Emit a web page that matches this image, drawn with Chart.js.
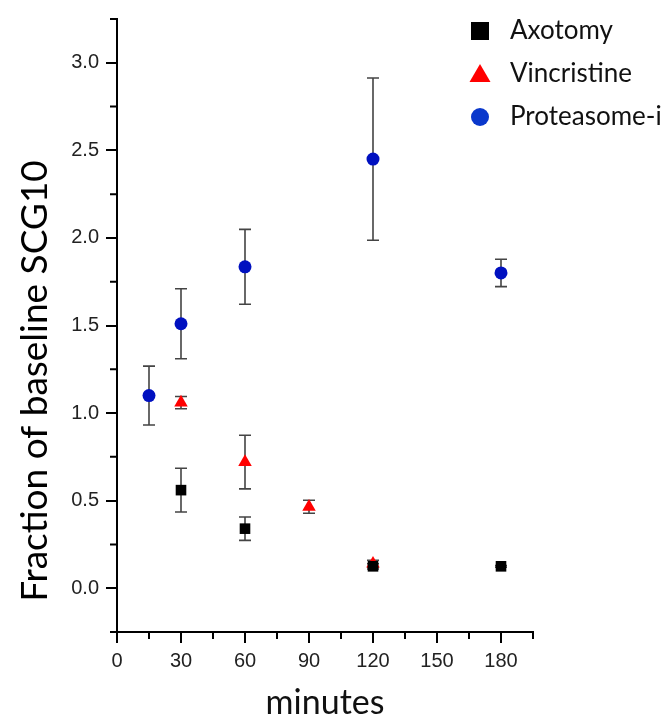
<!DOCTYPE html>
<html>
<head>
<meta charset="utf-8">
<script src="https://cdn.jsdelivr.net/npm/chart.js@4.4.1/dist/chart.umd.min.js"></script>
<style>
  html, body { margin: 0; padding: 0; background: #fff; }
  #wrap { width: 670px; height: 723px; }
</style>
</head>
<body>
<div id="wrap"><canvas id="myScatter"></canvas></div>
<script>
// values (minutes vs fraction of baseline SCG10)
var seriesNames = ['Axotomy', 'Vincristine', 'Proteasome-i'];

var axotomyMinutes = [30, 60, 120, 180];
var axotomyValues  = [0.56, 0.34, 0.125, 0.125];
var axotomyErrors  = [0.125, 0.067, 0.015, 0.005];

var vincristineMinutes = [30, 60, 90, 120];
var vincristineValues  = [1.06, 0.72, 0.465, 0.14];
var vincristineErrors  = [0.035, 0.153, 0.037, 0.02];

var proteasomeMinutes = [15, 30, 60, 120, 180];
var proteasomeValues  = [1.10, 1.51, 1.835, 2.45, 1.80];
var proteasomeErrors  = [0.168, 0.20, 0.214, 0.463, 0.078];

var xTickValues = [0, 30, 60, 90, 120, 150, 180];
var xTickLabels = ['0', '30', '60', '90', '120', '150', '180'];
var xMinorTicks = [15, 45, 75, 105, 135, 165, 195];
var yTickValues = [0, 0.5, 1, 1.5, 2, 2.5, 3];
var yTickLabels = ['0.0', '0.5', '1.0', '1.5', '2.0', '2.5', '3.0'];
var yMinorTicks = [-0.25, 0.25, 0.75, 1.25, 1.75, 2.25, 2.75, 3.25];

function points(xs, ys) {
  var out = [];
  for (var i = 0; i < xs.length; i++) out.push({ x: xs[i], y: ys[i] });
  return out;
}

// error bars, drawn under the markers
var errorBars = {
  id: 'errorBars',
  beforeDatasetsDraw: function(chart) {
    var ctx = chart.ctx, xs = chart.scales.x, ys = chart.scales.y;
    ctx.save();
    ctx.strokeStyle = '#444';
    ctx.lineWidth = 1.6;
    chart.data.datasets.forEach(function(ds) {
      ds.data.forEach(function(p, i) {
        var px = xs.getPixelForValue(p.x);
        var top = ys.getPixelForValue(p.y + ds.errors[i]);
        var bot = ys.getPixelForValue(p.y - ds.errors[i]);
        ctx.beginPath();
        ctx.moveTo(px, top); ctx.lineTo(px, bot);
        ctx.moveTo(px - 6, top); ctx.lineTo(px + 6, top);
        ctx.moveTo(px - 6, bot); ctx.lineTo(px + 6, bot);
        ctx.stroke();
      });
    });
    ctx.restore();
  }
};

// short minor ticks, y title and legend
var extras = {
  id: 'extras',
  afterDraw: function(chart) {
    var ctx = chart.ctx, xs = chart.scales.x, ys = chart.scales.y, area = chart.chartArea;
    ctx.save();
    ctx.strokeStyle = '#000';
    ctx.lineWidth = 2;
    ctx.beginPath();
    xMinorTicks.forEach(function(v) {
      var px = xs.getPixelForValue(v);
      ctx.moveTo(px, area.bottom); ctx.lineTo(px, area.bottom + 7);
    });
    yMinorTicks.forEach(function(v) {
      var py = ys.getPixelForValue(v);
      ctx.moveTo(area.left, py); ctx.lineTo(area.left - 7, py);
    });
    ctx.stroke();

    // y axis title
    ctx.save();
    ctx.translate(35, 381);
    ctx.rotate(-Math.PI / 2);
    ctx.fillStyle = '#000';
    ctx.font = '37px Lato';
    ctx.textAlign = 'center';
    ctx.textBaseline = 'middle';
    ctx.fillText('Fraction of baseline SCG10', 0, 0);
    ctx.restore();

    // legend
    ctx.font = '26px Lato';
    ctx.textAlign = 'left';
    ctx.textBaseline = 'middle';
    chart.data.datasets.forEach(function(ds, i) {
      var cx = 480, cy = 31 + i * 43;
      ctx.fillStyle = ds.legendColor;
      ctx.beginPath();
      if (ds.pointStyle === 'rect') {
        ctx.rect(cx - 9, cy - 9, 18, 18);
      } else if (ds.pointStyle === 'triangle') {
        ctx.moveTo(cx, cy - 10); ctx.lineTo(cx + 10.5, cy + 8); ctx.lineTo(cx - 10.5, cy + 8); ctx.closePath();
      } else {
        ctx.arc(cx, cy, 9, 0, Math.PI * 2);
      }
      ctx.fill();
      ctx.fillStyle = '#111';
      ctx.fillText(ds.label, 510, cy);
    });
    ctx.restore();
  }
};

var chartdata = {
  datasets: [
    {
      label: seriesNames[0],
      data: points(axotomyMinutes, axotomyValues),
      errors: axotomyErrors,
      pointStyle: 'rect',
      pointRadius: 7.5,
      backgroundColor: '#000',
      legendColor: '#000',
      borderColor: '#000',
      borderWidth: 0
    },
    {
      label: seriesNames[1],
      data: points(vincristineMinutes, vincristineValues),
      errors: vincristineErrors,
      pointStyle: 'triangle',
      pointRadius: 7.8,
      backgroundColor: '#ff0000',
      legendColor: '#ff0000',
      borderColor: '#ff0000',
      borderWidth: 0
    },
    {
      label: seriesNames[2],
      data: points(proteasomeMinutes, proteasomeValues),
      errors: proteasomeErrors,
      pointStyle: 'circle',
      pointRadius: 6.5,
      backgroundColor: '#0010c0',
      legendColor: '#0a38cc',
      borderColor: '#0010c0',
      borderWidth: 0
    }
  ]
};

var axisGrid = {
  drawOnChartArea: false,
  drawTicks: true,
  tickLength: 11,
  tickWidth: 2,
  tickColor: '#000',
  color: '#000',
  lineWidth: 2
};

var options = {
  responsive: true,
  maintainAspectRatio: false,
  animation: false,
  layout: { padding: { left: 0, top: 10, right: 137, bottom: 0 } },
  plugins: {
    legend: { display: false },
    tooltip: { enabled: false }
  },
  scales: {
    x: {
      type: 'linear',
      min: 0,
      max: 195,
      afterBuildTicks: function(scale) {
        scale.ticks = xTickValues.map(function(v) { return { value: v }; });
      },
      afterFit: function(scale) { scale.height = 91; },
      ticks: {
        font: { family: 'Liberation Sans', size: 20 },
        color: '#222',
        padding: 6,
        maxRotation: 0,
        callback: function(value, index) { return xTickLabels[index]; }
      },
      grid: axisGrid,
      border: { display: true, color: '#000', width: 2 },
      title: {
        display: true,
        text: 'minutes',
        font: { family: 'Lato', size: 34 },
        color: '#111',
        padding: { top: 0, bottom: 0 }
      }
    },
    y: {
      type: 'linear',
      min: -0.25,
      max: 3.25,
      afterBuildTicks: function(scale) {
        scale.ticks = yTickValues.map(function(v) { return { value: v }; });
      },
      afterFit: function(scale) { scale.width = 117; },
      ticks: {
        font: { family: 'Liberation Sans', size: 20 },
        color: '#222',
        padding: 7,
        callback: function(value, index) { return yTickLabels[index]; }
      },
      grid: axisGrid,
      border: { display: true, color: '#000', width: 2 }
    }
  }
};

var ctx = document.getElementById('myScatter');
var chart = new Chart(ctx, {
  type: 'scatter',
  data: chartdata,
  options: options,
  plugins: [errorBars, extras]
});
</script>
</body>
</html>
